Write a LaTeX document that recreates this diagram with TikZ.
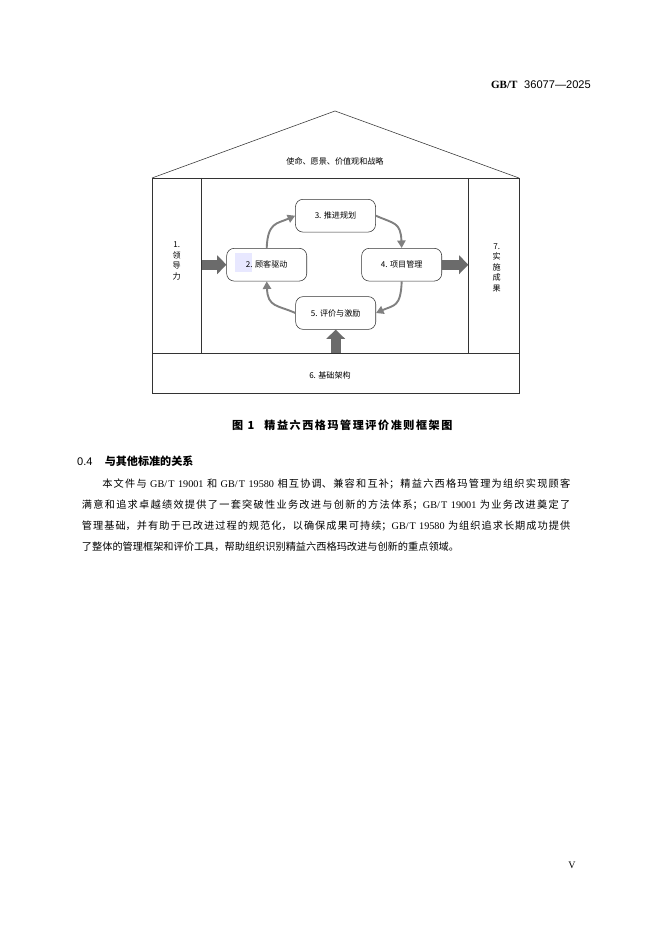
\documentclass[tikz,border=0pt]{standalone}
\usepackage{fontspec}
\setmainfont{Liberation Serif}
\newfontfamily\cjk{Noto Sans CJK SC}
\newfontfamily\cjkcap[LetterSpace=14]{Noto Sans CJK SC}
\newfontfamily\latinsans{Liberation Sans}
\newcommand\lat[1]{{\rmfamily #1}}
\usetikzlibrary{arrows.meta, calc}
\XeTeXlinebreaklocale "zh"
\XeTeXlinebreakskip=0pt plus 1.5pt

\begin{document}
\begin{tikzpicture}[x=0.3172mm, y=-0.3172mm, >=Stealth,
    frame/.style={draw=black!80, line width=0.5pt},
    stage/.style={draw=black!80, line width=0.5pt, rounded corners=2.4mm,
        minimum width=25.4mm, minimum height=10.4mm, inner sep=0pt,
        font=\cjk\fontsize{7.3}{8}\selectfont},
    cyc/.style={draw=black!50, line width=0.6mm, -{Triangle[length=2.4mm, width=2.6mm]}},
    push/.style={draw=black!58, line width=3.1mm, -{Triangle[length=2.9mm, width=5.8mm]}},
    lbl/.style={font=\cjk\fontsize{7.3}{9.5}\selectfont, align=center, inner sep=0pt}]

    % 0. Page
    \fill[white] (0,0) rectangle (662,936);
    \useasboundingbox (0,0) rectangle (662,936);

    % 1. House frame: roof, walls, columns, base
    \coordinate (roofL) at (152,178);
    \coordinate (apex) at (335,111);
    \coordinate (roofR) at (519,178);
    \draw[frame] (roofL) -- (apex) -- (roofR);
    \draw[frame] (roofL) rectangle (519,393);
    \draw[frame] (152,353) -- (519,353);
    \draw[frame] (201.7,178) -- (201.7,353);
    \draw[frame] (468.3,178) -- (468.3,353);

    % faint highlight behind "2."
    \fill[blue!9] (235,253) rectangle (252,272);

    % 2. Four stages of the cycle
    \node[stage] (plan)  at (335.5,215.7) {3. 推进规划};
    \node[stage] (drive) at (266.7,264.7) {2. 顾客驱动};
    \node[stage] (proj)  at (401.7,264.7) {4. 项目管理};
    \node[stage] (eval)  at (335.7,313)   {5. 评价与激励};

    % 3. Labels of roof, columns and base
    \node[lbl] (mission) at (335,161.7) {使命、愿景、价值观和战略};
    \node[lbl] (lead)    at (176.7,261) {1.\\领\\导\\力};
    \node[lbl] (result)  at (496.7,267.5) {7.\\实\\施\\成\\果};
    \node[lbl] (base)    at (330,375.7) {6. 基础架构};

    % 4. Block arrows
    \coordinate (leadedge) at (201.7,264.7);
    \coordinate (resultedge) at (468.3,264.7);
    \coordinate (baseedge) at (335.7,353);
    \draw[push] (leadedge) -- (drive.west);
    \draw[push] (proj.east) -- (resultedge);
    \draw[push] (baseedge) -- (eval.south);

    % 5. Cycle arrows
    \draw[cyc] (drive.north) .. controls +(1,-26) and +(-18,8) .. (plan.west);
    \draw[cyc] (plan.east) .. controls +(18,8) and +(-1,-26) .. (proj.north);
    \draw[cyc] (proj.south) .. controls +(-1,26) and +(18,-8) .. (eval.east);
    \draw[cyc] (eval.west) .. controls +(-18,-8) and +(1,26) .. (drive.south);

    % 6. Page texts
    \node[anchor=east, inner sep=0pt, font=\fontsize{10}{12}\selectfont] (header) at (591,85)
        {\textbf{GB/T}\hspace{0.6em}\latinsans 36077—2025};
    \node[anchor=west, inner sep=0pt, font=\cjkcap\bfseries\fontsize{10}{12}\selectfont] (caption) at (232,425)
        {图\hspace{0.4em}1\hspace{0.9em}精益六西格玛管理评价准则框架图};
    \node[anchor=west, inner sep=0pt, font=\fontsize{10}{12}\selectfont] (sec) at (77,461)
        {\latinsans 0.4\hspace{1.1em}\cjk\bfseries 与其他标准的关系};
    \node[anchor=north west, inner sep=0pt, text width=154.9mm, align=justify,
        font=\cjk\fontsize{9.2}{18.9}\selectfont] (para) at (81.7,479)
        {\hspace*{2em}本文件与\lat{ GB/T 19001 }和\lat{ GB/T 19580 }相互协调、兼容和互补；精益六西格玛管理为组织实现顾客\linebreak
         满意和追求卓越绩效提供了一套突破性业务改进与创新的方法体系；\lat{GB/T 19001 }为业务改进奠定了\linebreak
         管理基础，并有助于已改进过程的规范化，以确保成果可持续；\lat{GB/T 19580 }为组织追求长期成功提供\linebreak
         了整体的管理框架和评价工具，帮助组织识别精益六西格玛改进与创新的重点领域。};
    \node[font=\fontsize{9}{10}\selectfont] (pageno) at (572,865) {V};

\end{tikzpicture}
\end{document}
